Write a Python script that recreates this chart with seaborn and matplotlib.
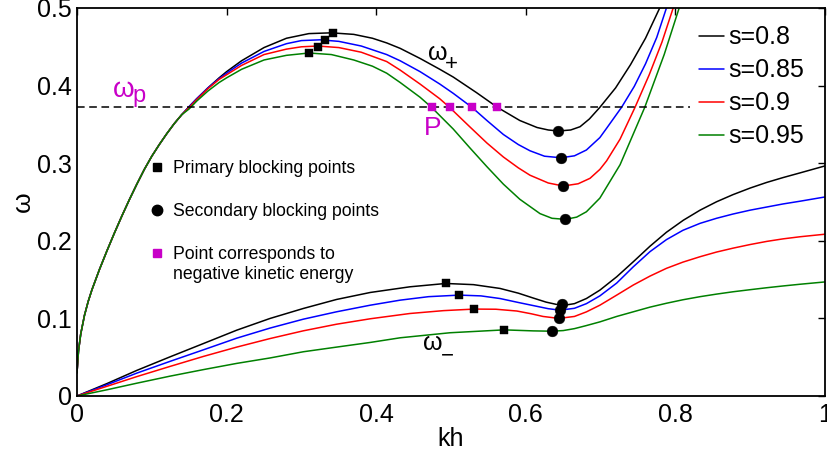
import matplotlib
matplotlib.use('Agg')
import matplotlib.pyplot as plt
import seaborn as sns
import pandas as pd
from matplotlib.lines import Line2D

# values
s_labels = ['s=0.8', 's=0.85', 's=0.9', 's=0.95']
s_colors = ['black', 'blue', 'red', '#008000']

# omega_+ branch, the first part is common to all s
kh_rise = [0, 0.002, 0.005, 0.01, 0.015, 0.02, 0.03, 0.04, 0.05, 0.06, 0.07, 0.08, 0.09, 0.10,
           0.11, 0.12, 0.13, 0.14]
w_rise = [0.03, 0.058, 0.08, 0.104, 0.122, 0.137, 0.163, 0.187, 0.210, 0.232, 0.253, 0.273, 0.292,
          0.309, 0.324, 0.338, 0.351, 0.3625]

kh_up_08 = kh_rise + [0.15, 0.16, 0.175, 0.19, 0.2, 0.22, 0.25, 0.28, 0.31, 0.34, 0.37, 0.395, 0.414,
                      0.432, 0.4586, 0.485, 0.503, 0.534, 0.562, 0.592, 0.615, 0.63, 0.6435, 0.66,
                      0.6725, 0.685, 0.699, 0.72, 0.74, 0.76, 0.779, 0.79]
w_up_08 = w_rise + [0.373, 0.383, 0.397, 0.41, 0.418, 0.432, 0.449, 0.461, 0.467, 0.468, 0.466, 0.461,
                    0.455, 0.448, 0.435, 0.421, 0.411, 0.391, 0.372, 0.355, 0.346, 0.3428, 0.3415,
                    0.3428, 0.347, 0.357, 0.372, 0.397, 0.427, 0.461, 0.5, 0.525]

kh_up_085 = kh_rise + [0.15, 0.16, 0.175, 0.19, 0.2, 0.22, 0.25, 0.28, 0.30, 0.325, 0.35, 0.38, 0.414,
                       0.432, 0.4586, 0.485, 0.503, 0.528, 0.548, 0.570, 0.59, 0.6056, 0.625, 0.647,
                       0.665, 0.681, 0.699, 0.708, 0.728, 0.745, 0.76, 0.775, 0.788, 0.798]
w_up_085 = w_rise + [0.373, 0.383, 0.397, 0.409, 0.416, 0.429, 0.444, 0.454, 0.458, 0.459, 0.457, 0.451,
                     0.440, 0.432, 0.418, 0.402, 0.390, 0.372, 0.355, 0.337, 0.324, 0.316, 0.309, 0.307,
                     0.3095, 0.317, 0.333, 0.345, 0.372, 0.399, 0.428, 0.462, 0.5, 0.53]

kh_up_09 = kh_rise + [0.15, 0.16, 0.175, 0.19, 0.2, 0.22, 0.25, 0.28, 0.30, 0.322, 0.35, 0.38, 0.414,
                      0.432, 0.4586, 0.485, 0.498, 0.525, 0.548, 0.570, 0.59, 0.6056, 0.63, 0.650, 0.67,
                      0.6858, 0.699, 0.708, 0.726, 0.746, 0.765, 0.782, 0.797, 0.806]
w_up_09 = w_rise + [0.372, 0.382, 0.396, 0.408, 0.414, 0.426, 0.44, 0.447, 0.450, 0.451, 0.449, 0.443,
                    0.431, 0.420, 0.402, 0.383, 0.372, 0.347, 0.326, 0.308, 0.294, 0.2845, 0.2745,
                    0.2706, 0.2735, 0.2805, 0.292, 0.303, 0.331, 0.372, 0.414, 0.456, 0.5, 0.53]

kh_up_095 = kh_rise + [0.15, 0.16, 0.175, 0.19, 0.2, 0.22, 0.25, 0.28, 0.31, 0.34, 0.37, 0.395, 0.414,
                       0.432, 0.4586, 0.474, 0.503, 0.525, 0.548, 0.57, 0.592, 0.619, 0.635, 0.653,
                       0.668, 0.681, 0.699, 0.726, 0.759, 0.785, 0.805, 0.813]
w_up_095 = w_rise + [0.370, 0.380, 0.393, 0.404, 0.410, 0.421, 0.433, 0.439, 0.442, 0.440, 0.433, 0.425,
                     0.416, 0.404, 0.385, 0.372, 0.344, 0.320, 0.2955, 0.273, 0.2535, 0.235, 0.229,
                     0.2276, 0.2305, 0.2374, 0.255, 0.298, 0.372, 0.44, 0.5, 0.53]

# omega_- branch
kh_lo_08 = [0, 0.04, 0.08, 0.124, 0.169, 0.2135, 0.258, 0.3026, 0.347, 0.392, 0.445, 0.493, 0.53,
            0.5655, 0.59, 0.61, 0.627, 0.641, 0.652, 0.665, 0.681, 0.699, 0.7215, 0.7437, 0.766,
            0.788, 0.8106, 0.833, 0.855, 0.877, 0.9, 0.922, 0.944, 0.9666, 1.0]
w_lo_08 = [0, 0.016, 0.033, 0.0503, 0.0676, 0.0848, 0.0999, 0.1128, 0.1244, 0.1334, 0.1407, 0.145,
           0.1435, 0.1386, 0.1325, 0.1262, 0.121, 0.118, 0.117, 0.119, 0.1256, 0.1364, 0.1536, 0.173,
           0.193, 0.211, 0.2265, 0.2395, 0.2503, 0.2595, 0.268, 0.2752, 0.2815, 0.2875, 0.2965]

kh_lo_085 = [0, 0.04, 0.08, 0.124, 0.169, 0.2135, 0.258, 0.3026, 0.347, 0.392, 0.432, 0.47, 0.511,
             0.54, 0.5655, 0.59, 0.61, 0.63, 0.6457, 0.665, 0.681, 0.699, 0.7215, 0.7437, 0.766,
             0.788, 0.81, 0.833, 0.855, 0.877, 0.9, 0.922, 0.944, 0.9666, 1.0]
w_lo_085 = [0, 0.0145, 0.0295, 0.0445, 0.0595, 0.0745, 0.0875, 0.099, 0.1085, 0.117, 0.1235, 0.128,
            0.130, 0.129, 0.1256, 0.1205, 0.1165, 0.1125, 0.1106, 0.113, 0.119, 0.129, 0.1455,
            0.1665, 0.186, 0.2015, 0.2135, 0.2225, 0.229, 0.2345, 0.2395, 0.2435, 0.2475, 0.251,
            0.2565]

kh_lo_09 = [0, 0.04, 0.08, 0.124, 0.169, 0.2135, 0.258, 0.3026, 0.347, 0.392, 0.445, 0.49, 0.531,
            0.56, 0.588, 0.607, 0.623, 0.644, 0.665, 0.681, 0.699, 0.7215, 0.7437, 0.766, 0.788,
            0.81, 0.833, 0.855, 0.877, 0.9, 0.922, 0.944, 0.9666, 1.0]
w_lo_09 = [0, 0.0125, 0.025, 0.038, 0.051, 0.063, 0.074, 0.084, 0.0925, 0.0995, 0.1063, 0.110, 0.112,
           0.1118, 0.1095, 0.106, 0.1025, 0.100, 0.1025, 0.1084, 0.117, 0.13, 0.143, 0.1545, 0.1645,
           0.1725, 0.1795, 0.1855, 0.1905, 0.1952, 0.1992, 0.2025, 0.2052, 0.2085]

kh_lo_095 = [0, 0.04, 0.08, 0.124, 0.169, 0.2135, 0.258, 0.3026, 0.347, 0.392, 0.432, 0.4987, 0.571,
             0.61, 0.6346, 0.65, 0.665, 0.68, 0.699, 0.7215, 0.7437, 0.766, 0.788, 0.81, 0.833,
             0.855, 0.877, 0.9, 0.922, 0.944, 0.9666, 1.0]
w_lo_095 = [0, 0.008, 0.0165, 0.0255, 0.034, 0.042, 0.049, 0.057, 0.063, 0.069, 0.075, 0.0815, 0.0852,
            0.0839, 0.0835, 0.0843, 0.0868, 0.0905, 0.0955, 0.1025, 0.1085, 0.1145, 0.1195, 0.124,
            0.128, 0.1313, 0.1343, 0.137, 0.1395, 0.1418, 0.144, 0.147]

# blocking points
prim_kh = [0.342, 0.331, 0.322, 0.310, 0.493, 0.511, 0.531, 0.571]
prim_w = [0.468, 0.459, 0.450, 0.442, 0.145, 0.130, 0.112, 0.0852]
sec_kh = [0.6435, 0.647, 0.650, 0.653, 0.649, 0.646, 0.645, 0.6346]
sec_w = [0.3415, 0.307, 0.2706, 0.2276, 0.118, 0.111, 0.101, 0.0835]
neg_kh = [0.474, 0.498, 0.528, 0.562]
omega_p = 0.372
dash_end = 0.82

x_ticks = [0, 0.2, 0.4, 0.6, 0.8, 1]
x_ticklabels = ['0', '0.2', '0.4', '0.6', '0.8', '1']
y_ticks = [0, 0.1, 0.2, 0.3, 0.4, 0.5]
y_ticklabels = ['0', '0.1', '0.2', '0.3', '0.4', '0.5']

curves = [
    (s_labels[0], kh_up_08, w_up_08, 'up'), (s_labels[0], kh_lo_08, w_lo_08, 'lo'),
    (s_labels[1], kh_up_085, w_up_085, 'up'), (s_labels[1], kh_lo_085, w_lo_085, 'lo'),
    (s_labels[2], kh_up_09, w_up_09, 'up'), (s_labels[2], kh_lo_09, w_lo_09, 'lo'),
    (s_labels[3], kh_up_095, w_up_095, 'up'), (s_labels[3], kh_lo_095, w_lo_095, 'lo'),
]
frames = []
for s, kh, w, br in curves:
    frames.append(pd.DataFrame({'kh': kh, 'omega': w, 's': s, 'branch': s + br}))
df = pd.concat(frames, ignore_index=True)

sns.set_theme(style='white')
plt.rcParams['font.family'] = ['Liberation Sans', 'DejaVu Sans']
plt.rcParams['text.color'] = 'black'
plt.rcParams['axes.labelcolor'] = 'black'
magenta = '#C800C8'

fig = plt.figure(figsize=(8.28, 4.57), dpi=100)
ax = fig.add_axes([0.093, 0.1335, 0.9034, 0.849])

palette = dict(zip(s_labels, s_colors))
sns.lineplot(data=df, x='kh', y='omega', hue='s', units='branch', estimator=None, sort=False,
             palette=palette, legend=False, linewidth=1.1, ax=ax)

ax.hlines(omega_p, 0, dash_end, colors='black', linestyles=(0, (5, 3)), linewidth=1.1)

sns.scatterplot(x=prim_kh, y=prim_w, marker='s', color='black', s=40, edgecolor='black',
                linewidth=0.3, ax=ax, zorder=4)
sns.scatterplot(x=sec_kh, y=sec_w, marker='o', color='black', s=60, edgecolor='black',
                linewidth=0.3, ax=ax, zorder=4)
sns.scatterplot(x=neg_kh, y=[omega_p] * len(neg_kh), marker='s', color=magenta, s=30,
                edgecolor=magenta, linewidth=0.3, ax=ax, zorder=4)

ax.set_xlim(0, 1)
ax.set_ylim(0, 0.5)
ax.set_xticks(x_ticks)
ax.set_xticklabels(x_ticklabels)
ax.set_yticks(y_ticks)
ax.set_yticklabels(y_ticklabels)
ax.tick_params(direction='in', length=5, width=1, labelsize=18, top=True, right=True,
               colors='black')
ax.tick_params(axis='x', pad=5)
ax.tick_params(axis='y', pad=3.5)
for sp in ax.spines.values():
    sp.set_linewidth(1.3)
    sp.set_color('black')

ax.set_xlabel('kh', fontsize=18, labelpad=0.3)
ax.set_ylabel('ω', fontsize=19, labelpad=1.5)

# curve labels
ax.text(0.048, 0.3854, 'ω', color=magenta, fontsize=20)
ax.text(0.0735, 0.379, 'p', color=magenta, fontsize=17)
ax.text(0.469, 0.433, 'ω', color='black', fontsize=18)
ax.text(0.501, 0.427, '+', color='black', fontsize=16, ha='center', va='center')
ax.text(0.4626, 0.059, 'ω', color='black', fontsize=18)
ax.text(0.4947, 0.0513, '−', color='black', fontsize=16, ha='center', va='center')
ax.text(0.475, 0.3364, 'P', color=magenta, fontsize=19, ha='center')

s_handles = [Line2D([], [], color=c, lw=1.1) for c in s_colors]
leg1 = ax.legend(s_handles, s_labels, loc='upper left', bbox_to_anchor=(0.8316, 0.955),
                 frameon=False, fontsize=18, handlelength=1.0, handletextpad=0.15,
                 labelspacing=0.36, borderpad=0, borderaxespad=0)
ax.add_artist(leg1)

m_handles = [
    Line2D([], [], marker='s', ls='', color='black', markersize=6),
    Line2D([], [], marker='o', ls='', color='black', markersize=7.5),
    Line2D([], [], marker='s', ls='', color=magenta, markersize=6),
]
m_labels = ['Primary blocking points', 'Secondary blocking points', 'Point corresponds to']
ax.legend(m_handles, m_labels, loc='upper left', bbox_to_anchor=(0.0949, 0.608), frameon=False,
          fontsize=12.7, handlelength=1.0, handletextpad=0.4, labelspacing=1.47,
          borderpad=0, borderaxespad=0)
ax.text(0.1283, 0.312, 'negative kinetic energy', fontsize=12.7, color='black',
        va='center', transform=ax.transAxes)

fig.savefig('out.png', dpi=100)
